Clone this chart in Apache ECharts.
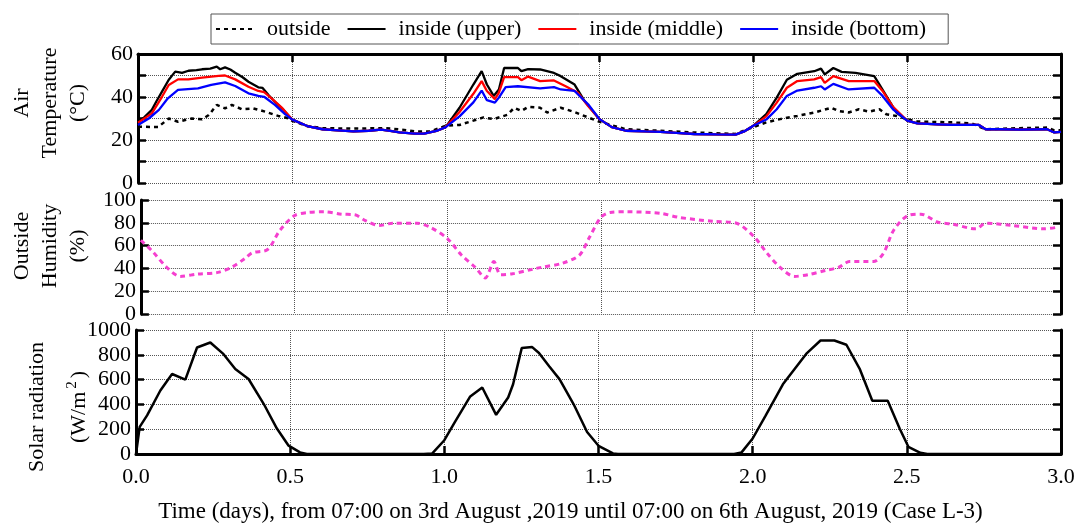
<!DOCTYPE html>
<html><head><meta charset="utf-8">
<script src="https://cdn.jsdelivr.net/npm/echarts@6/dist/echarts.min.js"></script>
<style>html,body{margin:0;padding:0;background:#fff}#c{width:1078px;height:524px}</style>
</head><body><div id="c"></div>
<script>
// ---- data: [time (days), value] ----
const legendNames = ['outside', 'inside (upper)', 'inside (middle)', 'inside (bottom)'];
const xTickLabels = ['0.0', '0.5', '1.0', '1.5', '2.0', '2.5', '3.0'];

const tempOutside = [[0,26.2],[0.065,26],[0.1,30],[0.13,28.5],[0.175,30],[0.208,29.6],[0.23,31.6],[0.256,36.3],[0.283,34.7],[0.305,36.3],[0.338,34.3],[0.375,34.7],[0.413,33.2],[0.456,31.2],[0.489,30.1],[0.5,29],
  [0.55,26.5],[0.6,25.5],[0.7,25.3],[0.8,25.5],[0.85,25],[0.9,24],[0.95,24],[1.0,26.6],
  [1.045,27],[1.09,29],[1.123,30.5],[1.156,29.7],[1.2,31.7],[1.223,35],[1.246,33.5],[1.268,35.4],[1.307,35],[1.33,32.8],[1.374,35],[1.419,33],[1.463,30.5],[1.5,28.5],
  [1.586,25],[1.697,24.3],[1.808,23.5],[1.942,22.8],[2.0,26],
  [2.042,28.2],[2.087,29.7],[2.143,31.2],[2.198,32.8],[2.254,35],[2.276,33.5],[2.31,32.8],[2.343,34.3],[2.376,33.2],[2.41,34.3],[2.432,32],[2.465,31.2],[2.5,29.7],
  [2.533,28.6],[2.644,28.2],[2.71,27.7],[2.755,25],[2.866,25.5],[2.955,25.8],[2.978,24.5],[3.0,24.5]];

const tempUpper = [[0,28.5],[0.02,30.5],[0.045,34],[0.06,38],[0.078,42.5],[0.1,48],[0.121,51.8],[0.135,51.5],[0.143,51.2],[0.164,52.2],[0.19,52.5],[0.208,52.9],[0.235,53.2],[0.256,54.1],[0.267,52.9],[0.283,53.8],[0.3,52.8],[0.316,51.3],[0.34,49.2],[0.359,47.1],[0.391,44.5],[0.405,44.2],[0.424,40.9],[0.445,37.8],[0.473,34],[0.5,29.6],
  [0.55,26.5],[0.6,25],[0.65,24.5],[0.7,24],[0.75,24.3],[0.79,24.8],[0.82,24.2],[0.85,23.5],[0.9,23],[0.93,23],[0.97,24.2],[1.0,26],
  [1.045,35],[1.09,45.8],[1.117,52],[1.134,45.8],[1.156,40.5],[1.173,43.5],[1.19,53.5],[1.235,53.5],[1.246,52],[1.268,53],[1.307,52.8],[1.352,51.2],[1.374,49.7],[1.419,45.8],[1.452,38],[1.5,29.7],
  [1.54,26],[1.586,24.3],[1.65,24],[1.697,23.8],[1.75,23.3],[1.808,22.8],[1.88,22.6],[1.942,22.5],[1.97,24],[2.0,26.6],
  [2.042,32],[2.076,39.7],[2.109,48],[2.143,50.8],[2.198,52],[2.22,53.2],[2.232,50.5],[2.26,53.5],[2.287,51.7],[2.332,51.2],[2.393,49.7],[2.41,45.8],[2.443,38],[2.465,32.8],[2.5,29],
  [2.533,27.7],[2.6,27.3],[2.644,27],[2.733,27],[2.755,25],[2.8,25],[2.866,24.8],[2.955,25],[2.978,23.5],[3.0,23.8]];

const tempMiddle = [[0,28],[0.045,32.4],[0.078,40.1],[0.1,45.6],[0.13,48.2],[0.164,48.2],[0.208,49],[0.262,49.8],[0.283,50],[0.316,48.2],[0.359,44.8],[0.391,42.8],[0.41,42.3],[0.434,39.4],[0.47,34.7],[0.5,29.6],
  [0.55,26.5],[0.6,25],[0.65,24.5],[0.7,24],[0.75,24.3],[0.79,24.8],[0.82,24.2],[0.85,23.5],[0.9,23],[0.93,23],[0.97,24.2],[1.0,26],
  [1.045,33],[1.09,41.5],[1.117,47.4],[1.134,42.8],[1.16,39],[1.173,42],[1.19,49.2],[1.235,49.2],[1.246,47.8],[1.268,49.5],[1.307,47.4],[1.352,47.7],[1.39,45],[1.43,42],[1.463,35.8],[1.5,29.7],
  [1.54,26],[1.586,24.3],[1.65,24],[1.697,23.8],[1.75,23.3],[1.808,22.8],[1.88,22.6],[1.942,22.5],[1.97,24],[2.0,26.6],
  [2.042,31],[2.076,37.4],[2.109,44.3],[2.143,47.4],[2.198,48.2],[2.22,49.2],[2.232,46.6],[2.26,49.7],[2.31,47.4],[2.393,47.4],[2.42,42.8],[2.454,35.4],[2.5,29],
  [2.533,27.7],[2.6,27.3],[2.644,27],[2.733,27],[2.755,25],[2.8,25],[2.866,24.8],[2.955,25],[2.978,23.5],[3.0,23.8]];

const tempBottom = [[0,27],[0.035,30],[0.068,34],[0.097,39.4],[0.13,43.3],[0.162,43.7],[0.195,44],[0.238,45.6],[0.283,46.8],[0.316,45.1],[0.359,41.7],[0.391,40.5],[0.41,40.1],[0.445,36.3],[0.478,32],[0.5,29.6],
  [0.55,26.5],[0.6,25],[0.65,24.5],[0.7,24],[0.75,24.3],[0.79,24.8],[0.82,24.2],[0.85,23.5],[0.9,23],[0.93,23],[0.97,24.2],[1.0,26],
  [1.045,31],[1.09,37.5],[1.117,43],[1.134,38.5],[1.16,37.4],[1.173,39.7],[1.195,44.6],[1.235,45],[1.307,44],[1.352,44.6],[1.374,43.5],[1.419,42.8],[1.463,36.6],[1.5,29.7],
  [1.54,26],[1.586,24.3],[1.65,24],[1.697,23.8],[1.75,23.3],[1.808,22.8],[1.88,22.6],[1.942,22.5],[1.97,24],[2.0,26.6],
  [2.042,29.5],[2.076,34.3],[2.109,40.5],[2.143,43],[2.198,44.3],[2.22,45],[2.232,43.5],[2.26,46.1],[2.31,43.5],[2.393,44.3],[2.42,40.5],[2.454,34.3],[2.5,29],
  [2.533,27.7],[2.6,27.3],[2.644,27],[2.733,27],[2.755,25],[2.8,25],[2.866,24.8],[2.955,25],[2.978,23.5],[3.0,23.8]];

const humidity = [[0.0,64.7],[0.039,54.6],[0.084,41],[0.128,33],[0.184,35],[0.251,36.5],[0.296,41],[0.34,48.9],[0.363,53.7],[0.413,56.6],[0.453,73.3],[0.5,86.2],[0.542,89],[0.598,89.7],[0.654,87.6],[0.698,87],[0.732,81.9],[0.777,77.6],[0.821,79.6],[0.9,79.6],[0.944,76],
  [1.0,66],[1.045,51.7],[1.09,41],[1.123,31.6],[1.151,46],[1.173,34.5],[1.212,35.3],[1.279,39.4],[1.307,41],[1.374,44.5],[1.43,51.7],[1.463,67.5],[1.5,84.8],[1.53,89],[1.586,89.7],[1.697,88.2],[1.753,84.8],[1.864,81.3],[1.942,79.6],
  [2.0,67.5],[2.042,53.2],[2.087,40.2],[2.131,33],[2.176,34.5],[2.232,38.2],[2.276,41],[2.31,46],[2.388,46],[2.421,53.2],[2.454,73.3],[2.5,86.2],[2.543,87.6],[2.599,80.5],[2.644,79],[2.722,74.7],[2.755,79.6],[2.844,77.6],[2.944,74.7],[2.989,76.1]];

const solar = [[0,0],[0.012,219],[0.036,312],[0.079,512],[0.117,645],[0.16,600],[0.198,859],[0.241,899],[0.284,805],[0.322,685],[0.365,605],[0.414,405],[0.457,205],[0.495,67],[0.532,13],[0.554,0],
  [0.933,0],[0.961,5],[1.0,111],[1.034,257],[1.084,464],[1.123,536],[1.168,316],[1.207,456],[1.223,562],[1.251,854],[1.285,862],[1.307,814],[1.34,708],[1.374,602],[1.419,403],[1.463,178],[1.5,66],[1.547,5],[1.563,0],
  [1.94,0],[1.964,13],[2.0,125],[2.042,310],[2.098,562],[2.176,814],[2.22,915],[2.265,915],[2.304,881],[2.348,682],[2.388,430],[2.438,430],[2.477,204],[2.505,58],[2.544,10],[2.566,0],[3.0,0]];

// ---- chart ----
const FONT = 'Liberation Serif';
const gridLine = {show: true, lineStyle: {type: 'dotted', color: '#555', width: 1}};
const thickLine = {show: true, onZero: false, lineStyle: {color: '#000', width: 3}};
const inTick = {show: true, inside: true, length: 8, lineStyle: {color: '#000', width: 2.5}};
const labelStyle = {fontFamily: FONT, fontSize: 22, color: '#000'};

function xAx(i, extra) {
  return Object.assign({type: 'value', gridIndex: i, min: 0, max: 3, interval: 0.5, splitLine: gridLine,
    axisLine: {show: false}, axisTick: {show: false}, axisLabel: {show: false}}, extra);
}
function yPair(i, max, interval, fmt, name, nameGap, nameStyle, extra) {
  return [
    Object.assign({type: 'value', gridIndex: i, position: 'left', min: 0, max: max, interval: interval,
     axisLine: thickLine, axisTick: inTick, splitLine: gridLine,
     axisLabel: Object.assign({margin: 5, formatter: fmt}, labelStyle),
     name: name, nameLocation: 'middle', nameGap: nameGap,
     nameTextStyle: Object.assign({lineHeight: 28}, labelStyle, nameStyle)}, extra || {}),
    {type: 'value', gridIndex: i, position: 'right', min: 0, max: max, interval: interval,
     axisLine: thickLine, axisTick: inTick, splitLine: {show: false}, axisLabel: {show: false}}
  ];
}

const option = {
  animation: false,
  backgroundColor: '#fff',
  legend: {
    data: legendNames, left: 211, top: 14, itemWidth: 38, itemHeight: 14, itemGap: 16,
    borderColor: '#555', borderWidth: 1, borderRadius: 0, padding: [4, 22, 4, 4],
    selectedMode: false,
    itemStyle: {opacity: 0},
    textStyle: Object.assign({padding: [0, 0, 0, 8]}, labelStyle)
  },
  grid: [
    {left: 136, right: 17, top: 54, height: 129},
    {left: 136, right: 17, top: 200, height: 114},
    {left: 136, right: 17, top: 330, height: 125}
  ],
  xAxis: [
    xAx(0, {position: 'top', axisLine: thickLine, axisTick: inTick}),
    xAx(1, {}),
    xAx(2, {position: 'bottom', axisLine: thickLine, axisTick: inTick,
      axisLabel: Object.assign({show: true, margin: 12, formatter: v => xTickLabels[Math.round(v * 2)]}, labelStyle),
      name: 'Time (days), from 07:00 on 3rd August ,2019 until 07:00 on 6th August, 2019 (Case L-3)',
      nameLocation: 'middle', nameGap: 46,
      nameTextStyle: Object.assign({}, labelStyle, {fontSize: 23, padding: [0, 56, 0, 0]})})
  ],
  yAxis: [].concat(
    yPair(0, 60, 10, v => (v % 20 === 0 ? String(v) : ''), 'Air\nTemperature\n(°C)', 46, {padding: [0, 0, 0, 31]}),
    yPair(1, 100, 20, v => String(v), 'Outside\nHumidity\n(%)', 46, {padding: [0, 0, 0, 22]}),
    yPair(2, 1000, 200, v => String(v), 'Solar radiation\n{u|(W/m}{s|2}{u|)}', 46, {
      padding: [0, 30, 0, 0], lineHeight: 30,
      rich: {
        u: {fontFamily: FONT, fontSize: 22, color: '#000', lineHeight: 38, verticalAlign: 'bottom'},
        s: {fontFamily: FONT, fontSize: 15, color: '#000', lineHeight: 38, verticalAlign: 'bottom', padding: [0, 3, 10, 3]}
      }}, {nameMoveOverlap: false})
  ),
  series: [
    {name: 'outside', type: 'line', xAxisIndex: 0, yAxisIndex: 0, data: tempOutside, symbol: 'none',
     lineStyle: {color: '#000', width: 2.5, type: [4, 4]}, itemStyle: {color: '#000'}},
    {name: 'inside (upper)', type: 'line', xAxisIndex: 0, yAxisIndex: 0, data: tempUpper, symbol: 'none',
     lineStyle: {color: '#000', width: 2.3}, itemStyle: {color: '#000'}},
    {name: 'inside (middle)', type: 'line', xAxisIndex: 0, yAxisIndex: 0, data: tempMiddle, symbol: 'none',
     lineStyle: {color: '#f00', width: 2.3}, itemStyle: {color: '#f00'}},
    {name: 'inside (bottom)', type: 'line', xAxisIndex: 0, yAxisIndex: 0, data: tempBottom, symbol: 'none',
     lineStyle: {color: '#00f', width: 2.3}, itemStyle: {color: '#00f'}},
    {name: 'humidity', type: 'line', xAxisIndex: 1, yAxisIndex: 2, data: humidity, symbol: 'none', smooth: 0.3,
     lineStyle: {color: '#f53fcf', width: 3, type: [5, 4]}},
    {name: 'solar', type: 'line', xAxisIndex: 2, yAxisIndex: 4, data: solar, symbol: 'none',
     lineStyle: {color: '#000', width: 2.5}}
  ]
};
const chart = echarts.init(document.getElementById('c'), null, {renderer: 'canvas'});
chart.setOption(option);
</script></body></html>
